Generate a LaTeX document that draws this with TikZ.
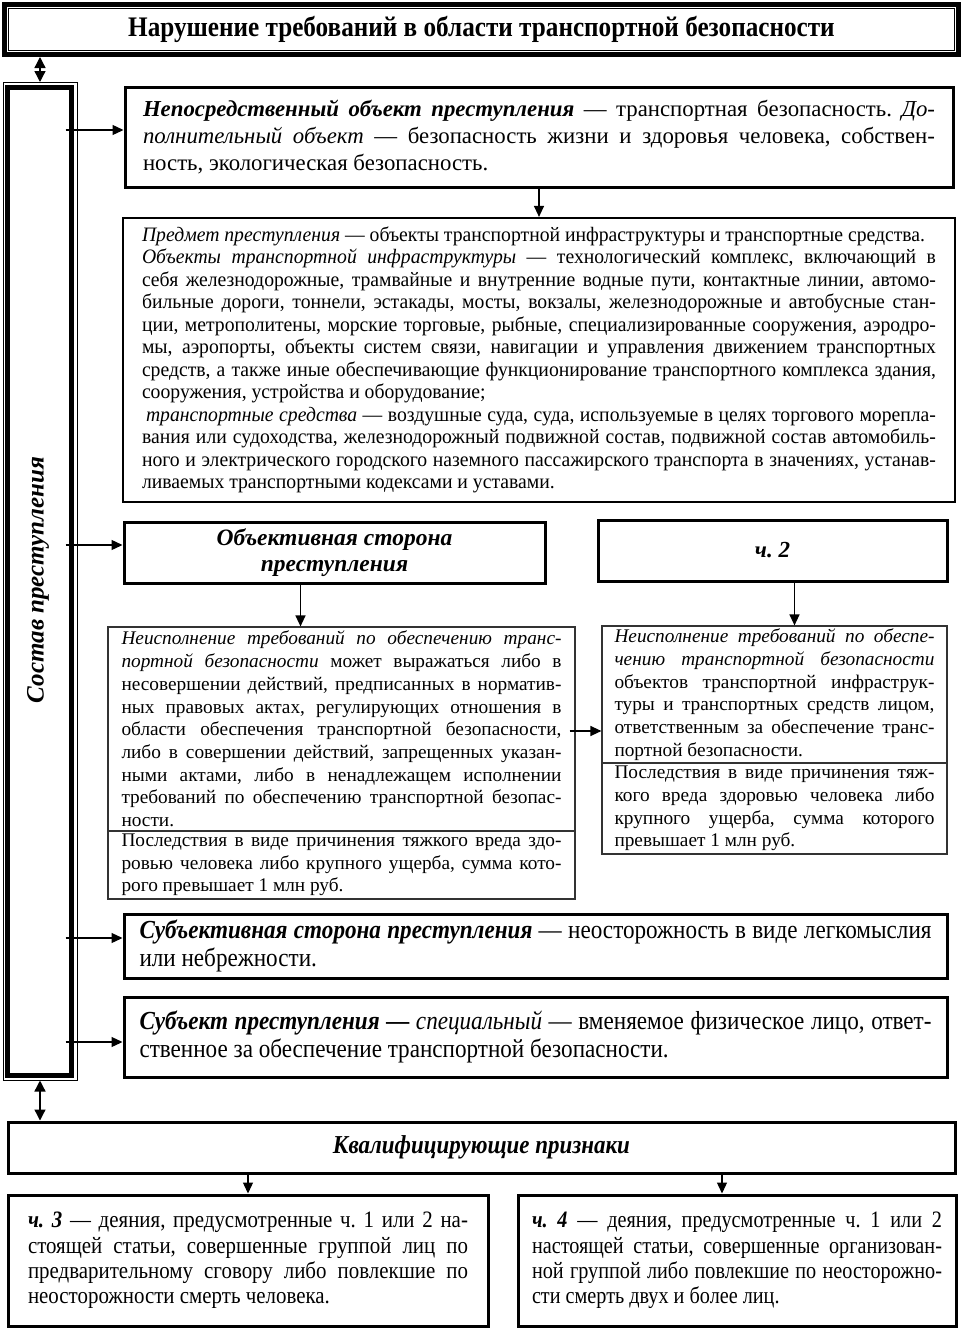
\documentclass[tikz,border=0pt]{standalone}
\usepackage{fontspec}
\setmainfont{Liberation Serif}
\newfontfamily\cnd[FakeStretch=0.89]{Liberation Serif}
\newfontfamily\cndq[FakeStretch=0.86]{Liberation Serif}
\newfontfamily\cndp[FakeStretch=0.96]{Liberation Serif}
\usetikzlibrary{arrows.meta}
\tikzset{
  thk/.style={draw, line width=3pt, inner sep=0pt},
  thn/.style={draw=black!80, line width=1.2pt, inner sep=0pt},
  jst/.style={align=justify},
  arr/.style={-{Triangle[length=11pt,width=10pt]}, line width=1.3pt},
  dbl/.style={{Triangle[length=11pt,width=11pt]}-{Triangle[length=11pt,width=11pt]}, line width=1.3pt},
}
\begin{document}
\begin{tikzpicture}[x=1pt,y=-1pt]
\useasboundingbox (0,0) rectangle (963,1333);
\tolerance=9999 \hbadness=10000 \hyphenpenalty=10000 \frenchspacing
% title
\node[draw, line width=5pt, minimum width=954pt, minimum height=50pt,
      font=\cnd\fontsize{28.3}{31}\selectfont\bfseries] (T) at (481.5,29.5)
      {Нарушение требований в области транспортной безопасности};
\draw[line width=1pt] ([shift={(6.5,6.5)}]T.north west) rectangle ([shift={(-6.5,-6.5)}]T.south east);
% left vertical box
\node[draw, line width=1pt, minimum width=74pt, minimum height=998pt] (L) at (40,581) {};
\draw[line width=5pt] ([shift={(4.5,5.5)}]L.north west) rectangle ([shift={(-6.5,-5.5)}]L.south east);
\node[rotate=90, font=\fontsize{25}{28}\selectfont\bfseries\itshape] (lab) at (38,580) {Состав преступления};
% box 1
\node[thk, minimum width=828pt, minimum height=100pt, text width=792pt, jst,
      font=\fontsize{22.8}{26.8}\selectfont] (B1) at (539,137)
{\textbf{\textit{Непосредственный объект преступления}} — транспортная безопасность. \textit{До-\linebreak
полнительный объект} — безопасность жизни и здоровья человека, собствен-\linebreak
ность, экологическая безопасность.};
% predmet
\node[draw, line width=2.2pt, inner sep=0pt, minimum width=832pt, minimum height=284pt, text width=794pt, jst,
      font=\cndp\fontsize{20.5}{22.5}\selectfont] (P) at (539,360)
{\textit{Предмет преступления} — объекты транспортной инфраструктуры и транспортные средства.\par
\textit{Объекты транспортной инфраструктуры} — технологический комплекс, включающий в\linebreak
себя железнодорожные, трамвайные и внутренние водные пути, контактные линии, автомо-\linebreak
бильные дороги, тоннели, эстакады, мосты, вокзалы, железнодорожные и автобусные стан-\linebreak
ции, метрополитены, морские торговые, рыбные, специализированные сооружения, аэродро-\linebreak
мы, аэропорты, объекты систем связи, навигации и управления движением транспортных\linebreak
средств, а также иные обеспечивающие функционирование транспортного комплекса здания,\linebreak
сооружения, устройства и оборудование;\par
\hspace*{4pt}\textit{транспортные средства} — воздушные суда, суда, используемые в целях торгового морепла-\linebreak
вания или судоходства, железнодорожный подвижной состав, подвижной состав автомобиль-\linebreak
ного и электрического городского наземного пассажирского транспорта в значениях, устанав-\linebreak
ливаемых транспортными кодексами и уставами.};
% objective side
\node[thk, minimum width=421pt, minimum height=61pt, align=center,
      font=\fontsize{23.5}{26}\selectfont\bfseries\itshape] (O) at (334.5,552.5)
{Объективная сторона\\преступления};
\node[thk, minimum width=349pt, minimum height=61pt,
      font=\fontsize{23}{26}\selectfont\bfseries\itshape] (C2) at (772.5,550.5) {ч. 2};
% left text box
\node[thn, minimum width=467pt, minimum height=204pt, text width=440pt, jst,
      font=\fontsize{19.3}{22.7}\selectfont] (LT) at (341.5,729)
{\textit{Неисполнение требований по обеспечению транс-\linebreak
портной безопасности} может выражаться либо в\linebreak
несовершении действий, предписанных в норматив-\linebreak
ных правовых актах, регулирующих отношения в\linebreak
области обеспечения транспортной безопасности,\linebreak
либо в совершении действий, запрещенных указан-\linebreak
ными актами, либо в ненадлежащем исполнении\linebreak
требований по обеспечению транспортной безопас-\linebreak
ности.};
\node[thn, minimum width=467pt, minimum height=68pt, text width=440pt, jst,
      font=\fontsize{19.3}{22.7}\selectfont] (LB) at (341.5,865)
{Последствия в виде причинения тяжкого вреда здо-\linebreak
ровью человека либо крупного ущерба, сумма кото-\linebreak
рого превышает 1 млн руб.};
% right text box
\node[thn, minimum width=345pt, minimum height=137pt, text width=320pt, jst,
      font=\fontsize{19.3}{22.7}\selectfont] (RT) at (774.5,694.5)
{\textit{Неисполнение требований по обеспе-\linebreak
чению транспортной безопасности}\linebreak
объектов транспортной инфраструк-\linebreak
туры и транспортных средств лицом,\linebreak
ответственным за обеспечение транс-\linebreak
портной безопасности.};
\node[thn, minimum width=345pt, minimum height=91pt, text width=320pt, jst,
      font=\fontsize{19.3}{22.7}\selectfont] (RB) at (774.5,808.5)
{Последствия в виде причинения тяж-\linebreak
кого вреда здоровью человека либо\linebreak
крупного ущерба, сумма которого\linebreak
превышает 1 млн руб.};
% subjective side
\node[thk, minimum width=823pt, minimum height=64pt, text width=792pt, jst,
      font=\cnd\fontsize{26}{27.5}\selectfont] (S1) at (535.5,946)
{\textbf{\textit{Субъективная сторона преступления}} — неосторожность в виде легкомыслия\linebreak
или небрежности.};
\node[thk, minimum width=823pt, minimum height=80pt, text width=792pt, jst,
      font=\cnd\fontsize{26}{28}\selectfont] (S2) at (535.5,1037)
{\textbf{\textit{Субъект преступления —}} \textit{специальный} — вменяемое физическое лицо, ответ-\linebreak
ственное за обеспечение транспортной безопасности.};
% qualifying
\node[thk, minimum width=947pt, minimum height=51pt,
      font=\cnd\fontsize{25.8}{27}\selectfont\bfseries\itshape] (K) at (481.5,1147.5)
{Квалифицирующие признаки};
\node[thk, minimum width=480pt, minimum height=131pt, text width=440pt, jst,
      font=\cnd\fontsize{23.5}{25.3}\selectfont] (C3) at (248,1260.5)
{\textbf{\textit{ч. 3}} — деяния, предусмотренные ч.~1 или 2 на-\linebreak
стоящей статьи, совершенные группой лиц по\linebreak
предварительному сговору либо повлекшие по\linebreak
неосторожности смерть человека.};
\node[thk, minimum width=438pt, minimum height=131pt, text width=410pt, jst,
      font=\cndq\fontsize{23.5}{25.3}\selectfont] (C4) at (737,1260.5)
{\textbf{\textit{ч. 4}} — деяния, предусмотренные ч.~1 или 2\linebreak
настоящей статьи, совершенные организован-\linebreak
ной группой либо повлекшие по неосторожно-\linebreak
сти смерть двух и более лиц.};
% connectors
\path (L.east) ++(-12,0) coordinate (Lx);
\coordinate (a1) at ([yshift=7]B1.west);
\coordinate (a2) at ([yshift=7.5]O.west);
\coordinate (a3) at ([yshift=8]S1.west);
\coordinate (a4) at ([yshift=-5]S2.west);
\coordinate (a5) at ([xshift=-6,yshift=-2]LT.east);
\coordinate (o1) at ([xshift=-34]O.south);
\coordinate (c2) at ([xshift=22]C2.south);
\coordinate (c4) at ([xshift=-15]C4.north);
\draw[dbl] (T.south -| L.north) -- ([yshift=-0.5pt]L.north);
\draw[dbl] (L.south) -- (L.south |- K.north);
\draw[arr] (Lx |- a1) -- (a1);
\draw[arr] (Lx |- a2) -- (a2);
\draw[arr] (Lx |- a3) -- (a3);
\draw[arr] (Lx |- a4) -- (a4);
\draw[arr] (B1.south) -- (B1.south |- P.north);
\draw[arr] (o1) -- (o1 |- LT.north);
\draw[arr] (c2) -- (c2 |- RT.north);
\draw[arr] (a5) -- (a5 -| RT.west);
\draw[arr] (C3.north |- K.south) -- (C3.north);
\draw[arr] (c4 |- K.south) -- (c4);
\end{tikzpicture}
\end{document}
